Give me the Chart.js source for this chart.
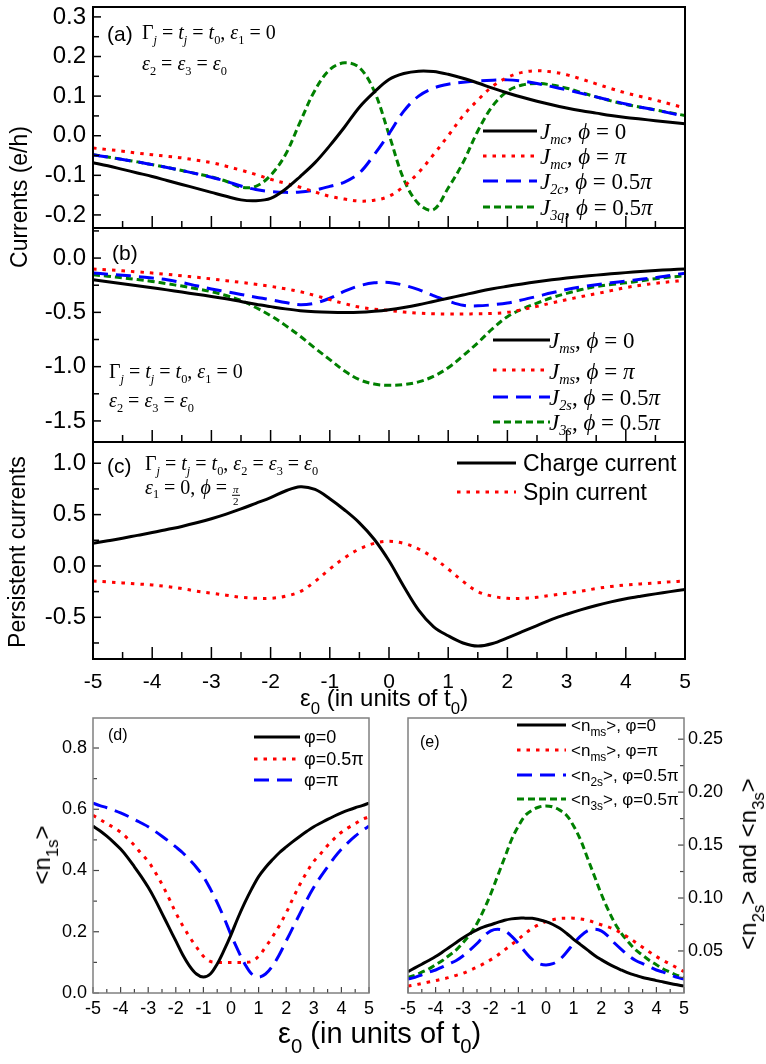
<!doctype html>
<html lang="en">
<head>
<meta charset="UTF-8" />
<title>Currents and occupations vs level energy</title>
<script src="https://cdn.jsdelivr.net/npm/chart.js"></script>
<style>
    body { margin: 0; background: #fff; }
    #fig { position: relative; width: 766px; height: 1064px; overflow: hidden;
           font-family: "Liberation Sans", Arial, sans-serif; color: #000; }
    canvas { position: absolute; }
    .t { position: absolute; white-space: nowrap; line-height: 1; transform: translateY(-50%); }
    .rot { transform: translate(-50%, -50%) rotate(-90deg); }
    .serif { font-family: "Liberation Serif", "Times New Roman", serif; }
    sub { font-size: 0.62em; vertical-align: -0.38em; line-height: 0; }
    .low sub { vertical-align: -0.5em; font-size: 0.7em; }
    .frac { display: inline-flex; flex-direction: column; align-items: center;
            font-size: 0.55em; line-height: 1; vertical-align: 0.05em; }
    .frac span:first-child { border-bottom: 1px solid #000; padding: 0 1px; }
</style>
</head>
<body>
<div id="fig">
    <canvas id="pa"></canvas>
    <canvas id="pb"></canvas>
    <canvas id="pc"></canvas>
    <canvas id="pd"></canvas>
    <canvas id="pe"></canvas>

    <!-- panel (a) -->
    <div class="t" style="left:107px;top:33px;font-size:21px">(a)</div>
    <div class="t serif" style="left:142px;top:32px;font-size:20px">Γ<sub><i>j</i></sub> = <i>t<sub>j</sub></i> = <i>t</i><sub>0</sub>, <i>ε</i><sub>1</sub> = 0</div>
    <div class="t serif" style="left:142px;top:63px;font-size:20px"><i>ε</i><sub>2</sub> = <i>ε</i><sub>3</sub> = <i>ε</i><sub>0</sub></div>
    <div class="t serif" style="left:540px;top:131px;font-size:23px"><i>J</i><sub><i>mc</i></sub>, <i>ϕ</i> = 0</div>
    <div class="t serif" style="left:540px;top:156px;font-size:23px"><i>J</i><sub><i>mc</i></sub>, <i>ϕ</i> = <i>π</i></div>
    <div class="t serif" style="left:540px;top:181px;font-size:23px"><i>J</i><sub><i>2c</i></sub>, <i>ϕ</i> = 0.5<i>π</i></div>
    <div class="t serif" style="left:540px;top:207px;font-size:23px"><i>J</i><sub><i>3q</i></sub>, <i>ϕ</i> = 0.5<i>π</i></div>

    <!-- panel (b) -->
    <div class="t" style="left:112px;top:252px;font-size:21px">(b)</div>
    <div class="t serif" style="left:109px;top:371px;font-size:20px">Γ<sub><i>j</i></sub> = <i>t<sub>j</sub></i> = <i>t</i><sub>0</sub>, <i>ε</i><sub>1</sub> = 0</div>
    <div class="t serif" style="left:109px;top:400px;font-size:20px"><i>ε</i><sub>2</sub> = <i>ε</i><sub>3</sub> = <i>ε</i><sub>0</sub></div>
    <div class="t serif" style="left:549px;top:340px;font-size:23px"><i>J</i><sub><i>ms</i></sub>, <i>ϕ</i> = 0</div>
    <div class="t serif" style="left:549px;top:371px;font-size:23px"><i>J</i><sub><i>ms</i></sub>, <i>ϕ</i> = <i>π</i></div>
    <div class="t serif" style="left:549px;top:397px;font-size:23px"><i>J</i><sub><i>2s</i></sub>, <i>ϕ</i> = 0.5<i>π</i></div>
    <div class="t serif" style="left:549px;top:422px;font-size:23px"><i>J</i><sub><i>3s</i></sub>, <i>ϕ</i> = 0.5<i>π</i></div>

    <!-- panel (c) -->
    <div class="t" style="left:107px;top:465px;font-size:21px">(c)</div>
    <div class="t serif" style="left:145px;top:463px;font-size:20px">Γ<sub><i>j</i></sub> = <i>t<sub>j</sub></i> = <i>t</i><sub>0</sub>, <i>ε</i><sub>2</sub> = <i>ε</i><sub>3</sub> = <i>ε</i><sub>0</sub></div>
    <div class="t serif" style="left:145px;top:492px;font-size:20px"><i>ε</i><sub>1</sub> = 0, <i>ϕ</i> = <span class="frac"><span><i>π</i></span><span>2</span></span></div>
    <div class="t" style="left:523px;top:463px;font-size:23px">Charge current</div>
    <div class="t" style="left:523px;top:492px;font-size:23px">Spin current</div>

    <div class="t rot" style="left:19px;top:197px;font-size:23px">Currents (e/h)</div>
    <div class="t rot" style="left:17px;top:552px;font-size:23px">Persistent currents</div>
    <div class="t low" style="left:300px;top:698px;font-size:24px">ε<sub>0</sub> (in units of t<sub>0</sub>)</div>

    <!-- panel (d) -->
    <div class="t" style="left:108px;top:735px;font-size:16px">(d)</div>
    <div class="t" style="left:304px;top:737px;font-size:18px">φ=0</div>
    <div class="t" style="left:304px;top:759px;font-size:18px">φ=0.5π</div>
    <div class="t" style="left:304px;top:780px;font-size:18px">φ=π</div>
    <div class="t rot low" style="left:42px;top:855px;font-size:24px">&lt;n<sub>1s</sub>&gt;</div>

    <!-- panel (e) -->
    <div class="t" style="left:420px;top:742px;font-size:16px">(e)</div>
    <div class="t low" style="left:571px;top:725px;font-size:17px">&lt;n<sub>ms</sub>&gt;, φ=0</div>
    <div class="t low" style="left:571px;top:750px;font-size:17px">&lt;n<sub>ms</sub>&gt;, φ=π</div>
    <div class="t low" style="left:571px;top:775px;font-size:17px">&lt;n<sub>2s</sub>&gt;, φ=0.5π</div>
    <div class="t low" style="left:571px;top:799px;font-size:17px">&lt;n<sub>3s</sub>&gt;, φ=0.5π</div>
    <div class="t rot low" style="left:748px;top:864px;font-size:24px">&lt;n<sub>2s</sub>&gt; and &lt;n<sub>3s</sub>&gt;</div>

    <div class="t low" style="left:278px;top:1033px;font-size:29px">ε<sub>0</sub> (in units of t<sub>0</sub>)</div>
</div>

<script>
    // level energy eps0 (units of t0)
    const X = [-5, -4.75, -4.5, -4.25, -4, -3.75, -3.5, -3.25, -3, -2.75, -2.5, -2.25, -2, -1.75, -1.5, -1.25,
        -1, -0.75, -0.5, -0.25, 0, 0.25, 0.5, 0.75, 1, 1.25, 1.5, 1.75, 2, 2.25, 2.5, 2.75, 3, 3.25, 3.5, 3.75,
        4, 4.25, 4.5, 4.75, 5];

    // (a) charge currents
    const A_MC_0 = [-0.068, -0.076, -0.085, -0.094, -0.103, -0.113, -0.123, -0.133, -0.143, -0.153, -0.162,
        -0.164, -0.158, -0.135, -0.103, -0.068, -0.025, 0.022, 0.072, 0.11, 0.142, 0.157, 0.163, 0.162, 0.155,
        0.145, 0.133, 0.12, 0.108, 0.097, 0.087, 0.078, 0.07, 0.063, 0.057, 0.051, 0.046, 0.042, 0.038, 0.034, 0.03];
    const A_MC_PI = [-0.031, -0.035, -0.039, -0.044, -0.048, -0.052, -0.056, -0.062, -0.068, -0.077, -0.087,
        -0.098, -0.11, -0.12, -0.13, -0.142, -0.153, -0.16, -0.165, -0.163, -0.153, -0.128, -0.093, -0.048, 0.0,
        0.05, 0.09, 0.125, 0.147, 0.16, 0.164, 0.161, 0.154, 0.143, 0.131, 0.119, 0.108, 0.099, 0.09, 0.08, 0.07];
    const A_2C = [-0.048, -0.054, -0.06, -0.066, -0.073, -0.08, -0.088, -0.096, -0.105, -0.115, -0.127, -0.136,
        -0.141, -0.143, -0.142, -0.137, -0.128, -0.117, -0.094, -0.048, 0.005, 0.062, 0.1, 0.12, 0.13, 0.135,
        0.138, 0.14, 0.141, 0.138, 0.132, 0.124, 0.116, 0.107, 0.098, 0.089, 0.08, 0.072, 0.065, 0.057, 0.049];
    const A_3C = [-0.048, -0.054, -0.06, -0.066, -0.073, -0.08, -0.088, -0.096, -0.104, -0.115, -0.13, -0.128,
        -0.1, -0.048, 0.035, 0.115, 0.167, 0.184, 0.172, 0.113, 0.003, -0.11, -0.172, -0.187, -0.132, -0.068,
        0.012, 0.075, 0.112, 0.128, 0.132, 0.128, 0.12, 0.109, 0.098, 0.088, 0.079, 0.072, 0.065, 0.058, 0.051];

    // (b) spin currents
    const B_MS_0 = [-0.2, -0.218, -0.236, -0.255, -0.274, -0.293, -0.313, -0.333, -0.353, -0.375, -0.4, -0.425,
        -0.447, -0.468, -0.485, -0.495, -0.5, -0.502, -0.5, -0.49, -0.475, -0.455, -0.43, -0.4, -0.37, -0.34,
        -0.31, -0.283, -0.26, -0.238, -0.218, -0.2, -0.184, -0.17, -0.157, -0.145, -0.134, -0.124, -0.115, -0.107, -0.1];
    const B_MS_PI = [-0.1, -0.108, -0.117, -0.127, -0.138, -0.15, -0.163, -0.177, -0.192, -0.208, -0.224, -0.241,
        -0.26, -0.283, -0.31, -0.345, -0.383, -0.42, -0.452, -0.47, -0.483, -0.497, -0.507, -0.513, -0.515, -0.515,
        -0.513, -0.51, -0.5, -0.475, -0.445, -0.413, -0.383, -0.355, -0.328, -0.3, -0.272, -0.25, -0.232, -0.218, -0.205];
    const B_2S = [-0.138, -0.148, -0.158, -0.17, -0.184, -0.2, -0.225, -0.255, -0.285, -0.31, -0.335, -0.36,
        -0.383, -0.41, -0.43, -0.415, -0.37, -0.305, -0.255, -0.228, -0.225, -0.25, -0.29, -0.345, -0.395, -0.435,
        -0.44, -0.43, -0.414, -0.385, -0.353, -0.32, -0.29, -0.265, -0.245, -0.228, -0.212, -0.196, -0.18, -0.16, -0.14];
    const B_3S = [-0.153, -0.167, -0.182, -0.198, -0.215, -0.236, -0.258, -0.282, -0.31, -0.345, -0.39, -0.455,
        -0.53, -0.62, -0.72, -0.83, -0.935, -1.04, -1.12, -1.16, -1.172, -1.165, -1.14, -1.09, -1.01, -0.9, -0.78,
        -0.65, -0.54, -0.47, -0.415, -0.365, -0.325, -0.29, -0.262, -0.243, -0.228, -0.21, -0.19, -0.175, -0.163];

    // (c) persistent currents
    const C_CHARGE = [0.22, 0.245, 0.27, 0.298, 0.325, 0.355, 0.385, 0.42, 0.46, 0.505, 0.555, 0.61, 0.665, 0.73,
        0.772, 0.745, 0.655, 0.545, 0.42, 0.26, 0.05, -0.2, -0.43, -0.59, -0.68, -0.75, -0.78, -0.755, -0.7, -0.64,
        -0.58, -0.52, -0.47, -0.425, -0.385, -0.35, -0.32, -0.295, -0.272, -0.25, -0.23];
    const C_SPIN = [-0.146, -0.155, -0.165, -0.175, -0.185, -0.2, -0.22, -0.245, -0.265, -0.285, -0.305, -0.315,
        -0.315, -0.295, -0.25, -0.15, -0.03, 0.08, 0.165, 0.22, 0.24, 0.22, 0.165, 0.08, -0.03, -0.15, -0.25, -0.295,
        -0.315, -0.315, -0.305, -0.285, -0.265, -0.245, -0.22, -0.2, -0.185, -0.175, -0.165, -0.155, -0.146];

    // (d) occupation of dot 1
    const D_0 = [0.545, 0.53, 0.512, 0.492, 0.47, 0.443, 0.412, 0.38, 0.345, 0.305, 0.26, 0.215, 0.17, 0.125,
        0.088, 0.062, 0.052, 0.062, 0.095, 0.14, 0.19, 0.245, 0.295, 0.34, 0.38, 0.41, 0.435, 0.458, 0.477, 0.495,
        0.512, 0.528, 0.543, 0.555, 0.567, 0.578, 0.588, 0.597, 0.605, 0.612, 0.62];
    const D_HALF = [0.58, 0.567, 0.553, 0.54, 0.525, 0.505, 0.482, 0.455, 0.43, 0.395, 0.355, 0.31, 0.262, 0.22,
        0.183, 0.15, 0.12, 0.103, 0.1, 0.1, 0.1, 0.1, 0.1, 0.103, 0.12, 0.15, 0.183, 0.22, 0.262, 0.31, 0.355, 0.395,
        0.43, 0.455, 0.482, 0.505, 0.525, 0.54, 0.553, 0.567, 0.575];
    const D_PI = [0.62, 0.612, 0.605, 0.597, 0.588, 0.578, 0.567, 0.555, 0.543, 0.528, 0.512, 0.495, 0.477, 0.458,
        0.435, 0.41, 0.38, 0.34, 0.295, 0.245, 0.19, 0.14, 0.095, 0.062, 0.052, 0.062, 0.088, 0.125, 0.17, 0.215,
        0.26, 0.305, 0.345, 0.38, 0.412, 0.443, 0.47, 0.492, 0.512, 0.53, 0.545];

    // (e) occupations of dots 2 and 3
    const E_MS_0 = [0.0305, 0.034, 0.0375, 0.041, 0.0447, 0.049, 0.0535, 0.058, 0.0625, 0.0665, 0.07, 0.0728,
        0.0748, 0.077, 0.079, 0.0803, 0.081, 0.081, 0.0808, 0.0795, 0.0777, 0.075, 0.0714, 0.0665, 0.061, 0.056,
        0.051, 0.046, 0.0418, 0.038, 0.0347, 0.0318, 0.029, 0.027, 0.025, 0.0235, 0.022, 0.0207, 0.0193, 0.018, 0.0168];
    const E_MS_PI = [0.0168, 0.018, 0.0193, 0.0207, 0.022, 0.0235, 0.025, 0.027, 0.029, 0.0318, 0.0347, 0.038,
        0.0418, 0.046, 0.051, 0.056, 0.061, 0.0665, 0.0714, 0.075, 0.0777, 0.0795, 0.0808, 0.081, 0.081, 0.0803,
        0.079, 0.077, 0.0748, 0.0728, 0.07, 0.0665, 0.0625, 0.058, 0.0535, 0.049, 0.0447, 0.041, 0.0375, 0.034, 0.0305];
    const E_2S = [0.0235, 0.025, 0.0275, 0.03, 0.032, 0.035, 0.038, 0.041, 0.0455, 0.051, 0.057, 0.064, 0.069,
        0.0705, 0.069, 0.064, 0.057, 0.049, 0.042, 0.038, 0.0368, 0.038, 0.042, 0.049, 0.057, 0.064, 0.069, 0.0705,
        0.069, 0.064, 0.057, 0.051, 0.0455, 0.041, 0.038, 0.035, 0.032, 0.03, 0.0275, 0.025, 0.0235];
    const E_3S = [0.025, 0.027, 0.03, 0.033, 0.037, 0.041, 0.046, 0.051, 0.058, 0.066, 0.076, 0.089, 0.104, 0.121,
        0.138, 0.155, 0.168, 0.178, 0.183, 0.186, 0.187, 0.186, 0.183, 0.178, 0.168, 0.155, 0.138, 0.121, 0.104,
        0.089, 0.076, 0.066, 0.058, 0.051, 0.046, 0.041, 0.037, 0.033, 0.03, 0.027, 0.025];

    // tick labels
    const X_TICKS = [-5, -4, -3, -2, -1, 0, 1, 2, 3, 4, 5];
    const Y_TICKS_A = [-0.2, -0.1, 0, 0.1, 0.2, 0.3];
    const Y_TICKS_B = [-1.5, -1, -0.5, 0];
    const Y_TICKS_C = [-0.5, 0, 0.5, 1];
    const Y_TICKS_D = [0, 0.2, 0.4, 0.6, 0.8];
    const Y_TICKS_E = [0.05, 0.1, 0.15, 0.2, 0.25];

    const BLACK = '#000000', RED = '#ff0000', BLUE = '#0000ff', GREEN = '#008000';
    const DOT = [3.5, 6], LONG = [15, 8], SHORT = [7, 4];
    const SANS = '"Liberation Sans", Arial, sans-serif';

    // box outline, inward ticks and legend line samples
    const frame = {
        id: 'frame',
        afterDatasetsDraw(chart, args, o) {
            const { ctx, chartArea: a } = chart;
            ctx.save();
            ctx.strokeStyle = o.tickColor;
            ctx.lineWidth = o.tickWidth;
            for (const t of o.ticks) {
                const s = chart.scales[t.axis];
                for (let k = Math.ceil(s.min / t.minor - 1e-6); k * t.minor <= s.max + 1e-9; k++) {
                    const v = k * t.minor;
                    const major = Math.abs(v / t.major - Math.round(v / t.major)) < 1e-6;
                    const len = major ? t.len : t.minorLen;
                    const p = s.getPixelForValue(v);
                    ctx.beginPath();
                    if (t.side === 'left') { ctx.moveTo(a.left, p); ctx.lineTo(a.left + len, p); }
                    if (t.side === 'right') { ctx.moveTo(a.right, p); ctx.lineTo(a.right - len, p); }
                    if (t.side === 'bottom') { ctx.moveTo(p, a.bottom); ctx.lineTo(p, a.bottom - len); }
                    ctx.stroke();
                }
            }
            ctx.strokeStyle = o.color;
            ctx.lineWidth = o.width;
            ctx.strokeRect(a.left, a.top, a.width, a.height);

            const key = o.key;
            chart.data.datasets.forEach((ds, i) => {
                ctx.beginPath();
                ctx.strokeStyle = ds.borderColor;
                ctx.lineWidth = ds.borderWidth;
                ctx.setLineDash(ds.borderDash || []);
                ctx.moveTo(key.x0 - o.ox, key.ys[i] - o.oy);
                ctx.lineTo(key.x1 - o.ox, key.ys[i] - o.oy);
                ctx.stroke();
            });
            ctx.restore();
        },
    };

    // labels must not push the plot area around: the areas are pinned below
    function noPad(s) {
        s.paddingTop = 0;
        s.paddingBottom = 0;
        s.paddingLeft = 0;
        s.paddingRight = 0;
    }

    // box: canvas [left, top, width, height], area: plot [left, top, right, bottom], page px
    function panel(id, box, area, c) {
        const cv = document.getElementById(id);
        cv.width = box[2];
        cv.height = box[3];
        cv.style.left = box[0] + 'px';
        cv.style.top = box[1] + 'px';
        const right = !!c.yRight;
        const yw = right ? box[0] + box[2] - area[2] : area[0] - box[0];
        const xh = box[1] + box[3] - area[3];

        return new Chart(cv, {
            type: 'line',
            data: {
                datasets: c.series.map((s) => ({
                    data: X.map((x, i) => ({ x: x, y: s.y[i] })),
                    borderColor: s.color,
                    borderWidth: s.w || 3,
                    borderDash: s.dash,
                    pointRadius: 0,
                    tension: 0.35,
                    fill: false,
                })),
            },
            options: {
                responsive: false,
                animation: false,
                events: [],
                layout: {
                    padding: {
                        top: area[1] - box[1],
                        bottom: 0,
                        left: right ? area[0] - box[0] : 0,
                        right: right ? 0 : box[0] + box[2] - area[2],
                    },
                },
                plugins: {
                    legend: { display: false },
                    tooltip: { enabled: false },
                    frame: Object.assign({ ox: box[0], oy: box[1] }, c.frame),
                },
                scales: {
                    x: {
                        type: 'linear',
                        min: -5,
                        max: 5,
                        afterFit: (s) => { s.height = xh; noPad(s); },
                        afterBuildTicks: (s) => { s.ticks = X_TICKS.map((v) => ({ value: v })); },
                        grid: { display: false, drawTicks: false },
                        border: { display: false },
                        ticks: {
                            display: !!c.xFont,
                            font: { family: SANS, size: c.xFont || 12 },
                            color: '#000',
                            padding: c.xPad || 0,
                            maxRotation: 0,
                            callback: (v) => String(v),
                        },
                    },
                    y: {
                        type: 'linear',
                        position: right ? 'right' : 'left',
                        min: c.ymin,
                        max: c.ymax,
                        afterFit: (s) => { s.width = yw; noPad(s); },
                        afterBuildTicks: (s) => { s.ticks = c.yTicks.map((v) => ({ value: v })); },
                        grid: { display: false, drawTicks: false },
                        border: { display: false },
                        ticks: {
                            font: { family: SANS, size: c.yFont },
                            color: '#000',
                            padding: c.yPad,
                            callback: (v) => v.toFixed(c.dec),
                        },
                    },
                },
            },
            plugins: [frame],
        });
    }

    const topFrame = (yMajor, yMinor, key) => ({
        color: '#000', width: 2, tickColor: '#000', tickWidth: 1.5, key: key,
        ticks: [
            { axis: 'y', side: 'left', major: yMajor, minor: yMinor, len: 8, minorLen: 6 },
            { axis: 'x', side: 'bottom', major: 1, minor: 0.5, len: 12, minorLen: 7 },
        ],
    });
    const lowFrame = (side, yMajor, yMinor, key) => ({
        color: '#808080', width: 1.5, tickColor: '#444', tickWidth: 1.2, key: key,
        ticks: [
            { axis: 'y', side: side, major: yMajor, minor: yMinor, len: 6, minorLen: 4 },
            { axis: 'x', side: 'bottom', major: 1, minor: 0.5, len: 6, minorLen: 4 },
        ],
    });

    panel('pa', [0, 0, 766, 232], [93, 7, 685, 228], {
        ymin: -0.233, ymax: 0.325, yTicks: Y_TICKS_A, dec: 1, yFont: 24, yPad: 7,
        frame: topFrame(0.1, 0.05, { x0: 483, x1: 537, ys: [131, 156, 181, 207] }),
        series: [
            { y: A_MC_0, color: BLACK },
            { y: A_MC_PI, color: RED, dash: DOT },
            { y: A_2C, color: BLUE, dash: LONG },
            { y: A_3C, color: GREEN, dash: SHORT },
        ],
    });

    panel('pb', [0, 222, 766, 224], [93, 228, 685, 442], {
        ymin: -1.694, ymax: 0.277, yTicks: Y_TICKS_B, dec: 1, yFont: 24, yPad: 7,
        frame: topFrame(0.5, 0.25, { x0: 493, x1: 550, ys: [340, 370, 397, 422] }),
        series: [
            { y: B_MS_0, color: BLACK },
            { y: B_MS_PI, color: RED, dash: DOT },
            { y: B_2S, color: BLUE, dash: LONG },
            { y: B_3S, color: GREEN, dash: SHORT },
        ],
    });

    panel('pc', [0, 436, 766, 264], [93, 442, 685, 659], {
        ymin: -0.906, ymax: 1.207, yTicks: Y_TICKS_C, dec: 1, yFont: 24, yPad: 7, xFont: 21, xPad: 11,
        frame: topFrame(0.5, 0.25, { x0: 457, x1: 516, ys: [463, 492] }),
        series: [
            { y: C_CHARGE, color: BLACK },
            { y: C_SPIN, color: RED, dash: DOT },
        ],
    });

    panel('pd', [0, 700, 385, 330], [93, 718, 369, 993], {
        ymin: 0, ymax: 0.898, yTicks: Y_TICKS_D, dec: 1, yFont: 18, yPad: 6, xFont: 18, xPad: 5,
        frame: lowFrame('left', 0.2, 0.1, { x0: 254, x1: 300, ys: [737, 759, 780] }),
        series: [
            { y: D_0, color: BLACK },
            { y: D_HALF, color: RED, dash: DOT },
            { y: D_PI, color: BLUE, dash: LONG },
        ],
    });

    panel('pe', [385, 700, 381, 330], [408, 718, 684, 993], {
        yRight: true,
        ymin: 0.0103, ymax: 0.27, yTicks: Y_TICKS_E, dec: 2, yFont: 18, yPad: 4, xFont: 18, xPad: 5,
        frame: lowFrame('right', 0.05, 0.025, { x0: 517, x1: 566, ys: [725, 750, 775, 799] }),
        series: [
            { y: E_MS_0, color: BLACK },
            { y: E_MS_PI, color: RED, dash: DOT },
            { y: E_2S, color: BLUE, dash: LONG },
            { y: E_3S, color: GREEN, dash: SHORT },
        ],
    });
</script>
</body>
</html>
